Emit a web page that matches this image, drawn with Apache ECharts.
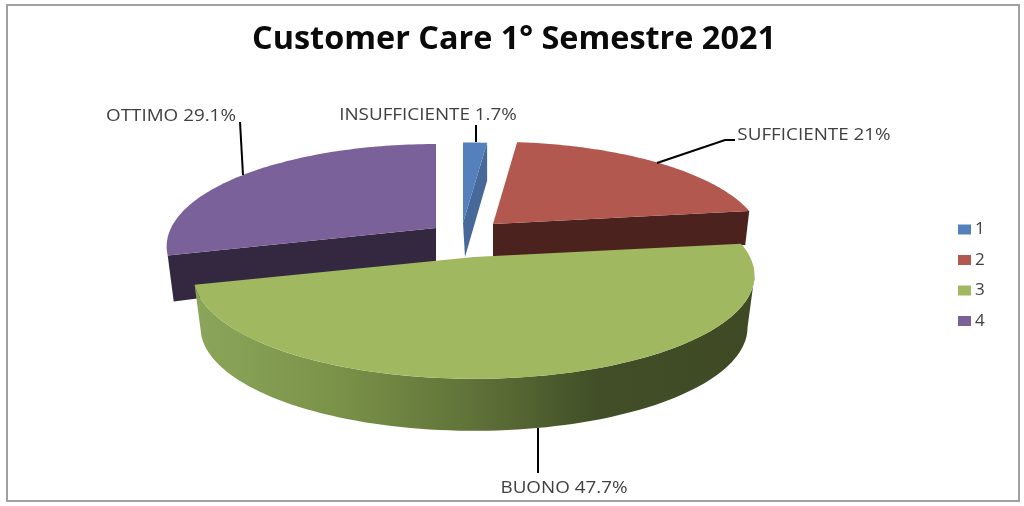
<!DOCTYPE html>
<html><head><meta charset="utf-8">
<style>html,body{margin:0;padding:0;background:#fff}#c{width:1024px;height:506px}</style>
<script src="https://cdn.jsdelivr.net/npm/echarts@6/dist/echarts.min.js"></script>
</head><body><div id="c"></div>
<script>
const titleText = 'Customer Care 1° Semestre 2021';
const legendNames = ['1', '2', '3', '4'];
const categories = ['INSUFFICIENTE', 'SUFFICIENTE', 'BUONO', 'OTTIMO'];
const values = [1.7, 21, 47.7, 29.1];
const valueLabels = ['1.7%', '21%', '47.7%', '29.1%'];
const topColors = ['#5480bb', '#b2584e', '#a0b85f', '#7b6199'];
const wallColors = ['#46699a', '#4c221e', null, '#33283f'];

// drawing layout of the exploded perspective pie (one entry per slice)
const PERSP = 0.179;
const layout = [
  {ax: 463, ay: 223, rx: 265, ry: 95,  depthIn: 34, depthOut: 38, inset: 0, wall: 'end1', z: 3},
  {ax: 493, ay: 224, rx: 265, ry: 97, depthIn: 36, depthOut: 34, inset: 4, wall: 'end',  z: 2},
  {ax: 474, ay: 257, rx: 276, ry: 100, depthIn: 52, depthOut: 52, inset: 0, wall: 'rim',  z: 5},
  {ax: 436, ay: 228, rx: 265, ry: 99, depthIn: 40, depthOut: 46, inset: -6, wall: 'start', z: 2}
];
const labelLayout = [
  {x: 428, y: 116, line: [[476, 125], [476, 142]]},
  {x: 814, y: 136, line: [[657, 163], [725, 140], [735, 140]]},
  {x: 564, y: 489, line: [[538, 428], [538, 473]]},
  {x: 171, y: 117, line: [[240, 122], [243, 175]]}
];
const rimGradient = {
  type: 'linear', x: 194, y: 0, x2: 754, y2: 0, global: true,
  colorStops: [
    {offset: 0, color: '#8ba65a'}, {offset: 0.25, color: '#7b9349'},
    {offset: 0.52, color: '#5d6f37'}, {offset: 0.72, color: '#414e27'},
    {offset: 1, color: '#3f4a25'}
  ]
};

const total = values.reduce((a, b) => a + b, 0);
function sweep(i) {
  let before = 0;
  for (let k = 0; k < i; k++) before += values[k];
  return [before / total * 2 * Math.PI, (before + values[i]) / total * 2 * Math.PI];
}
function pt(l, th, dy, scale) {
  const u = Math.sin(th), v = -Math.cos(th), s = 1 / (1 - PERSP * v);
  return [l.ax + l.rx * (scale || 1) * u * s, l.ay + (dy || 0) + l.ry * v * s];
}
function arc(l, a, b, dy, scale) {
  const out = [], n = 90;
  for (let i = 0; i <= n; i++) out.push(pt(l, a + (b - a) * i / n, dy, scale));
  return out;
}
function renderSlice(i) {
  return function () {
    const l = layout[i], [a, b] = sweep(i), children = [];
    if (l.wall === 'rim') {
      const t0 = Math.max(a, Math.acos(-PERSP));
      const pts = arc(l, t0, b).concat(arc(l, b, t0, l.depthOut, 0.975));
      children.push({type: 'polygon', shape: {points: pts}, style: {fill: rimGradient}});
    } else {
      const th = l.wall === 'start' ? a : b;
      const p = pt(l, th);
      children.push({type: 'polygon', shape: {points: [
        [l.ax, l.ay], p, [p[0] - l.inset, p[1] + l.depthOut], [l.ax + (l.wall === 'end1' ? 2 : 0), l.ay + l.depthIn]
      ]}, style: {fill: wallColors[i]}});
    }
    const top = [[l.ax, l.ay]].concat(arc(l, a, b));
    children.push({type: 'polygon', shape: {points: top}, style: {fill: topColors[i]}});
    const lab = labelLayout[i];
    children.push({type: 'polyline', shape: {points: lab.line}, style: {stroke: '#000', lineWidth: 2, fill: null}});
    children.push({type: 'text', x: lab.x, y: lab.y, scaleX: 1.2, style: {
      text: categories[i] + ' ' + valueLabels[i], fill: '#404040',
      font: '15.7px "Open Sans"', align: 'center', verticalAlign: 'middle'}});
    return {type: 'group', children};
  };
}
const chart = echarts.init(document.getElementById('c'), null, {renderer: 'canvas'});
chart.setOption({
  animation: false,
  backgroundColor: '#ffffff',
  title: {
    text: titleText, left: 509, top: 35, textAlign: 'center', textVerticalAlign: 'middle',
    textStyle: {fontFamily: 'Open Sans', fontWeight: 'bold', fontSize: 32.4, color: '#0a0a0a'}
  },
  legend: {
    data: legendNames, orient: 'vertical', left: 953, top: 216, itemWidth: 13, itemHeight: 10, itemGap: 13.5,
    icon: 'rect', textStyle: {fontFamily: 'Open Sans', fontSize: 17, color: '#404040', padding: [0, 0, 0, -1]}
  },
  graphic: [{
    type: 'rect', shape: {x: 7, y: 5, width: 1012, height: 496}, silent: true,
    style: {fill: null, stroke: '#a0a0a0', lineWidth: 2}
  }],
  series: values.map((v, i) => ({
    type: 'custom', name: legendNames[i], coordinateSystem: 'none', silent: true,
    z: layout[i].z, itemStyle: {color: topColors[i]},
    data: [[v]], renderItem: renderSlice(i)
  }))
});
</script></body></html>
